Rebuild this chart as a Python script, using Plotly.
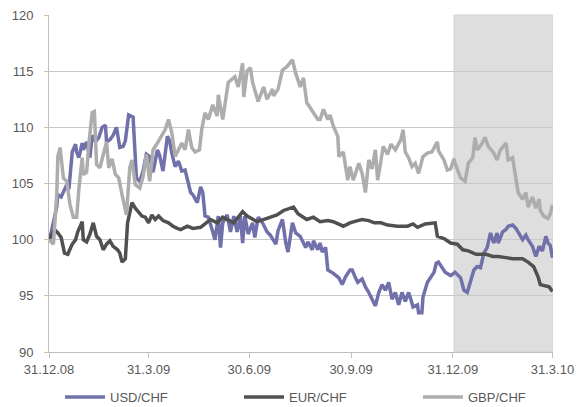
import pandas as pd
import plotly.graph_objects as go

base_date = "2008-12-31"

usd_days = [0, 1, 7, 8, 11, 13, 16, 18, 21, 24, 25, 27, 30, 31, 34, 37, 39, 42, 45, 48,
            51, 52, 55, 58, 61, 64, 67, 69, 72, 76, 79, 82, 85, 88, 91, 94, 98, 100, 103, 107,
            109, 111, 114, 117, 120, 123, 125, 128, 130, 134, 137, 139, 141, 144, 148, 150, 153, 155, 157, 161,
            164, 167, 170, 173, 175, 177, 180, 184, 186, 189, 193, 197, 200, 205, 207, 211, 214, 216, 220, 223,
            227, 230, 232, 234, 238, 239, 243, 245, 247, 250, 252, 257, 262, 265, 268, 272, 274, 277, 279, 283,
            286, 289, 292, 295, 298, 301, 304, 307, 310, 313, 316, 319, 322, 325, 327, 329, 333, 334, 337, 338,
            342, 345, 348, 350, 352, 356, 358, 363, 367, 372, 375, 378, 381, 384, 387, 390, 393, 396, 399, 402,
            405, 406, 410, 413, 415, 419, 422, 424, 428, 431, 433, 437, 440, 443, 446, 449, 451, 453, 455]
usd_vals = [100.0, 100.2, 102.9, 104.0, 103.8, 104.2, 104.9, 104.5, 107.8, 108.5, 107.8, 107.3, 108.6, 108.0, 108.7, 107.3, 109.3, 108.7, 109.1, 110.0,
            110.2, 108.7, 108.9, 109.3, 110.0, 108.2, 108.3, 108.8, 111.1, 110.9, 105.5, 105.2, 106.1, 107.6, 107.4, 106.0, 108.0, 107.5, 106.1, 109.2,
            108.8, 107.7, 106.5, 107.0, 106.1, 106.2, 105.3, 104.2, 104.0, 103.3, 104.7, 104.2, 102.1, 102.0, 100.7, 100.0, 102.1, 99.3, 101.5, 102.2,
            100.7, 102.1, 100.7, 102.1, 99.7, 102.1, 100.5, 101.5, 100.2, 102.0, 101.5, 100.7, 100.4, 99.6, 100.8, 101.8, 99.7, 98.9, 101.5, 100.6,
            100.3, 99.6, 99.3, 99.8, 99.1, 99.9, 99.1, 99.7, 98.9, 99.3, 97.3, 97.0, 96.6, 96.0, 96.7, 97.3, 97.3, 96.6, 96.2, 96.5,
            95.8, 95.3, 94.7, 94.1, 95.3, 96.0, 95.5, 96.2, 94.7, 95.3, 94.2, 95.3, 94.5, 95.3, 94.7, 94.0, 94.2, 93.5, 93.5, 94.9,
            96.2, 96.7, 97.1, 97.9, 98.0, 97.4, 97.1, 96.8, 97.1, 96.6, 95.5, 95.3, 96.2, 97.3, 97.6, 97.5, 98.8, 99.3, 100.6, 99.7,
            100.6, 99.7, 100.7, 100.9, 101.2, 101.3, 101.0, 100.7, 100.0, 100.4, 100.0, 99.4, 98.5, 99.4, 99.0, 100.3, 99.7, 99.5, 98.4]

eur_days = [0, 5, 8, 11, 14, 17, 21, 24, 26, 30, 31, 34, 37, 40, 43, 46, 49, 52, 55, 58,
            62, 64, 66, 69, 71, 75, 78, 81, 84, 87, 90, 93, 96, 99, 103, 108, 112, 116, 119, 125,
            130, 137, 146, 152, 157, 167, 175, 179, 188, 197, 206, 212, 221, 225, 233, 239, 245, 252, 257, 266,
            272, 279, 283, 289, 294, 300, 306, 315, 324, 329, 333, 340, 349, 351, 357, 363, 369, 374, 379, 386,
            395, 401, 406, 413, 419, 428, 433, 438, 442, 444, 449, 452, 455]
eur_vals = [100.0, 100.9, 100.6, 100.2, 98.8, 98.7, 99.6, 100.0, 100.7, 101.6, 100.0, 99.8, 100.5, 101.5, 100.3, 100.0, 99.1, 99.6, 99.9, 99.4,
            99.1, 98.8, 98.0, 98.3, 101.5, 103.3, 102.8, 102.5, 102.1, 102.0, 101.5, 102.2, 101.8, 102.1, 101.7, 101.5, 101.2, 101.0, 100.9, 101.2,
            101.0, 101.1, 101.8, 101.5, 102.0, 101.5, 102.5, 102.1, 101.6, 101.9, 102.2, 102.6, 102.9, 102.3, 101.8, 102.0, 101.6, 101.7, 101.6, 101.2,
            101.5, 101.7, 101.8, 101.7, 101.5, 101.5, 101.3, 101.2, 101.2, 101.4, 101.1, 101.4, 101.5, 100.3, 100.1, 99.7, 99.6, 99.1, 99.0, 98.7,
            98.7, 98.5, 98.5, 98.4, 98.3, 98.3, 98.0, 97.6, 96.7, 96.0, 95.9, 95.8, 95.4]

gbp_days = [0, 4, 7, 8, 10, 13, 16, 19, 22, 25, 27, 30, 31, 34, 36, 39, 41, 43, 46, 49,
            52, 54, 57, 60, 63, 66, 69, 70, 73, 75, 78, 82, 85, 88, 91, 94, 98, 105, 108, 111,
            114, 120, 123, 126, 129, 132, 136, 138, 141, 144, 148, 152, 153, 157, 162, 168, 171, 175, 176, 179,
            182, 184, 189, 194, 197, 202, 203, 207, 211, 215, 220, 223, 227, 230, 233, 239, 243, 245, 248, 252,
            254, 257, 261, 262, 266, 270, 272, 275, 280, 283, 286, 289, 292, 295, 297, 300, 302, 306, 309, 313,
            318, 320, 322, 325, 328, 331, 334, 338, 342, 346, 351, 352, 357, 360, 363, 366, 367, 372, 376, 379,
            383, 385, 387, 391, 394, 397, 402, 405, 408, 413, 415, 419, 422, 424, 428, 431, 433, 437, 440, 443,
            444, 447, 451, 453, 455]
gbp_vals = [100.0, 99.6, 104.0, 107.4, 108.2, 105.5, 105.2, 103.1, 102.0, 102.0, 104.5, 107.3, 105.8, 106.0, 108.5, 111.3, 111.4, 106.7, 106.4, 107.7,
            108.7, 106.4, 107.2, 105.8, 105.5, 104.0, 102.5, 102.2, 106.4, 107.1, 104.9, 104.6, 105.6, 107.6, 105.2, 108.0, 108.6, 109.8, 110.7, 109.5,
            107.4, 108.6, 108.0, 109.8, 108.2, 107.8, 108.0, 109.8, 111.3, 110.7, 112.0, 111.0, 112.9, 110.7, 114.0, 114.5, 113.6, 115.7, 112.7, 115.0,
            115.3, 114.0, 112.3, 113.6, 112.5, 113.4, 112.8, 113.4, 115.1, 115.4, 116.0, 114.8, 113.6, 114.4, 112.2, 111.3, 110.7, 110.7, 111.6, 110.7,
            111.1, 110.1, 109.2, 107.4, 107.8, 105.3, 106.5, 105.3, 106.8, 105.9, 104.2, 107.1, 106.3, 108.0, 105.3, 107.0, 108.3, 107.6, 108.5, 108.0,
            108.9, 109.8, 107.8, 107.3, 106.5, 106.8, 105.9, 107.4, 107.7, 107.8, 108.7, 107.9, 107.1, 106.2, 106.3, 107.2, 106.8, 105.5, 105.2, 106.8,
            107.3, 109.1, 108.0, 108.5, 109.1, 108.3, 107.7, 107.1, 108.0, 108.6, 107.1, 107.3, 105.6, 104.2, 103.6, 104.2, 102.9, 103.8, 102.8, 103.6,
            102.6, 102.1, 101.9, 102.3, 103.1]

tick_dates = ["2008-12-31", "2009-03-31", "2009-06-30", "2009-09-30", "2009-12-31", "2010-03-31"]
tick_labels = ["31.12.08", "31.3.09", "30.6.09", "30.9.09", "31.12.09", "31.3.10"]
shade_start = "2010-01-01"
shade_end = "2010-03-31 12:00"

series = [
    ("USD/CHF", usd_days, usd_vals, "#7070AA", "legend", 0.0218),
    ("EUR/CHF", eur_days, eur_vals, "#505050", "legend2", 0.3770),
    ("GBP/CHF", gbp_days, gbp_vals, "#ADADAD", "legend3", 0.7321),
]


def to_dates(days):
    return pd.Timestamp(base_date) + pd.to_timedelta(days, unit="D")


font = dict(family="Liberation Sans, Arial, sans-serif", size=13, color="#595959")

fig = go.Figure()
legend_layouts = {}
for name, days, vals, color, leg, lx in series:
    fig.add_trace(go.Scatter(
        x=to_dates(days), y=vals, mode="lines", name=name, legend=leg,
        line=dict(color=color, width=3.5),
    ))
    legend_layouts[leg] = dict(orientation="h", xref="paper", yref="paper",
                               x=lx, xanchor="left", y=-0.1335, yanchor="middle",
                               font=font, itemwidth=40, bgcolor="rgba(0,0,0,0)")

fig.add_shape(type="rect", xref="x", yref="paper", x0=shade_start, x1=shade_end,
              y0=0, y1=1, fillcolor="#DEDEDE", line=dict(color="#D2D2D2", width=1),
              layer="below")

fig.update_layout(
    width=577, height=407, autosize=False,
    margin=dict(l=49, r=24, t=15, b=55, autoexpand=False),
    paper_bgcolor="white", plot_bgcolor="white",
    font=font,
    showlegend=True,
    xaxis=dict(type="date", range=["2008-12-31", "2010-03-31 12:00"],
               tickmode="array", tickvals=tick_dates, ticktext=tick_labels,
               showgrid=False, showline=True, linecolor="#BFBFBF", linewidth=1,
               ticks="outside", ticklen=5, tickcolor="#BFBFBF", tickfont=font,
               zeroline=False, automargin=False),
    yaxis=dict(range=[90, 120], dtick=5, tick0=90,
               showgrid=True, gridcolor="#C8C8C8", gridwidth=1,
               showline=True, linecolor="#BFBFBF", linewidth=1,
               ticks="outside", ticklen=4, tickcolor="#BFBFBF", tickfont=font,
               ticklabelstandoff=8, zeroline=False, automargin=False),
    **legend_layouts,
)

fig.write_html("out.html", config={"displayModeBar": False},
               post_script="document.body.style.margin='0px';")
